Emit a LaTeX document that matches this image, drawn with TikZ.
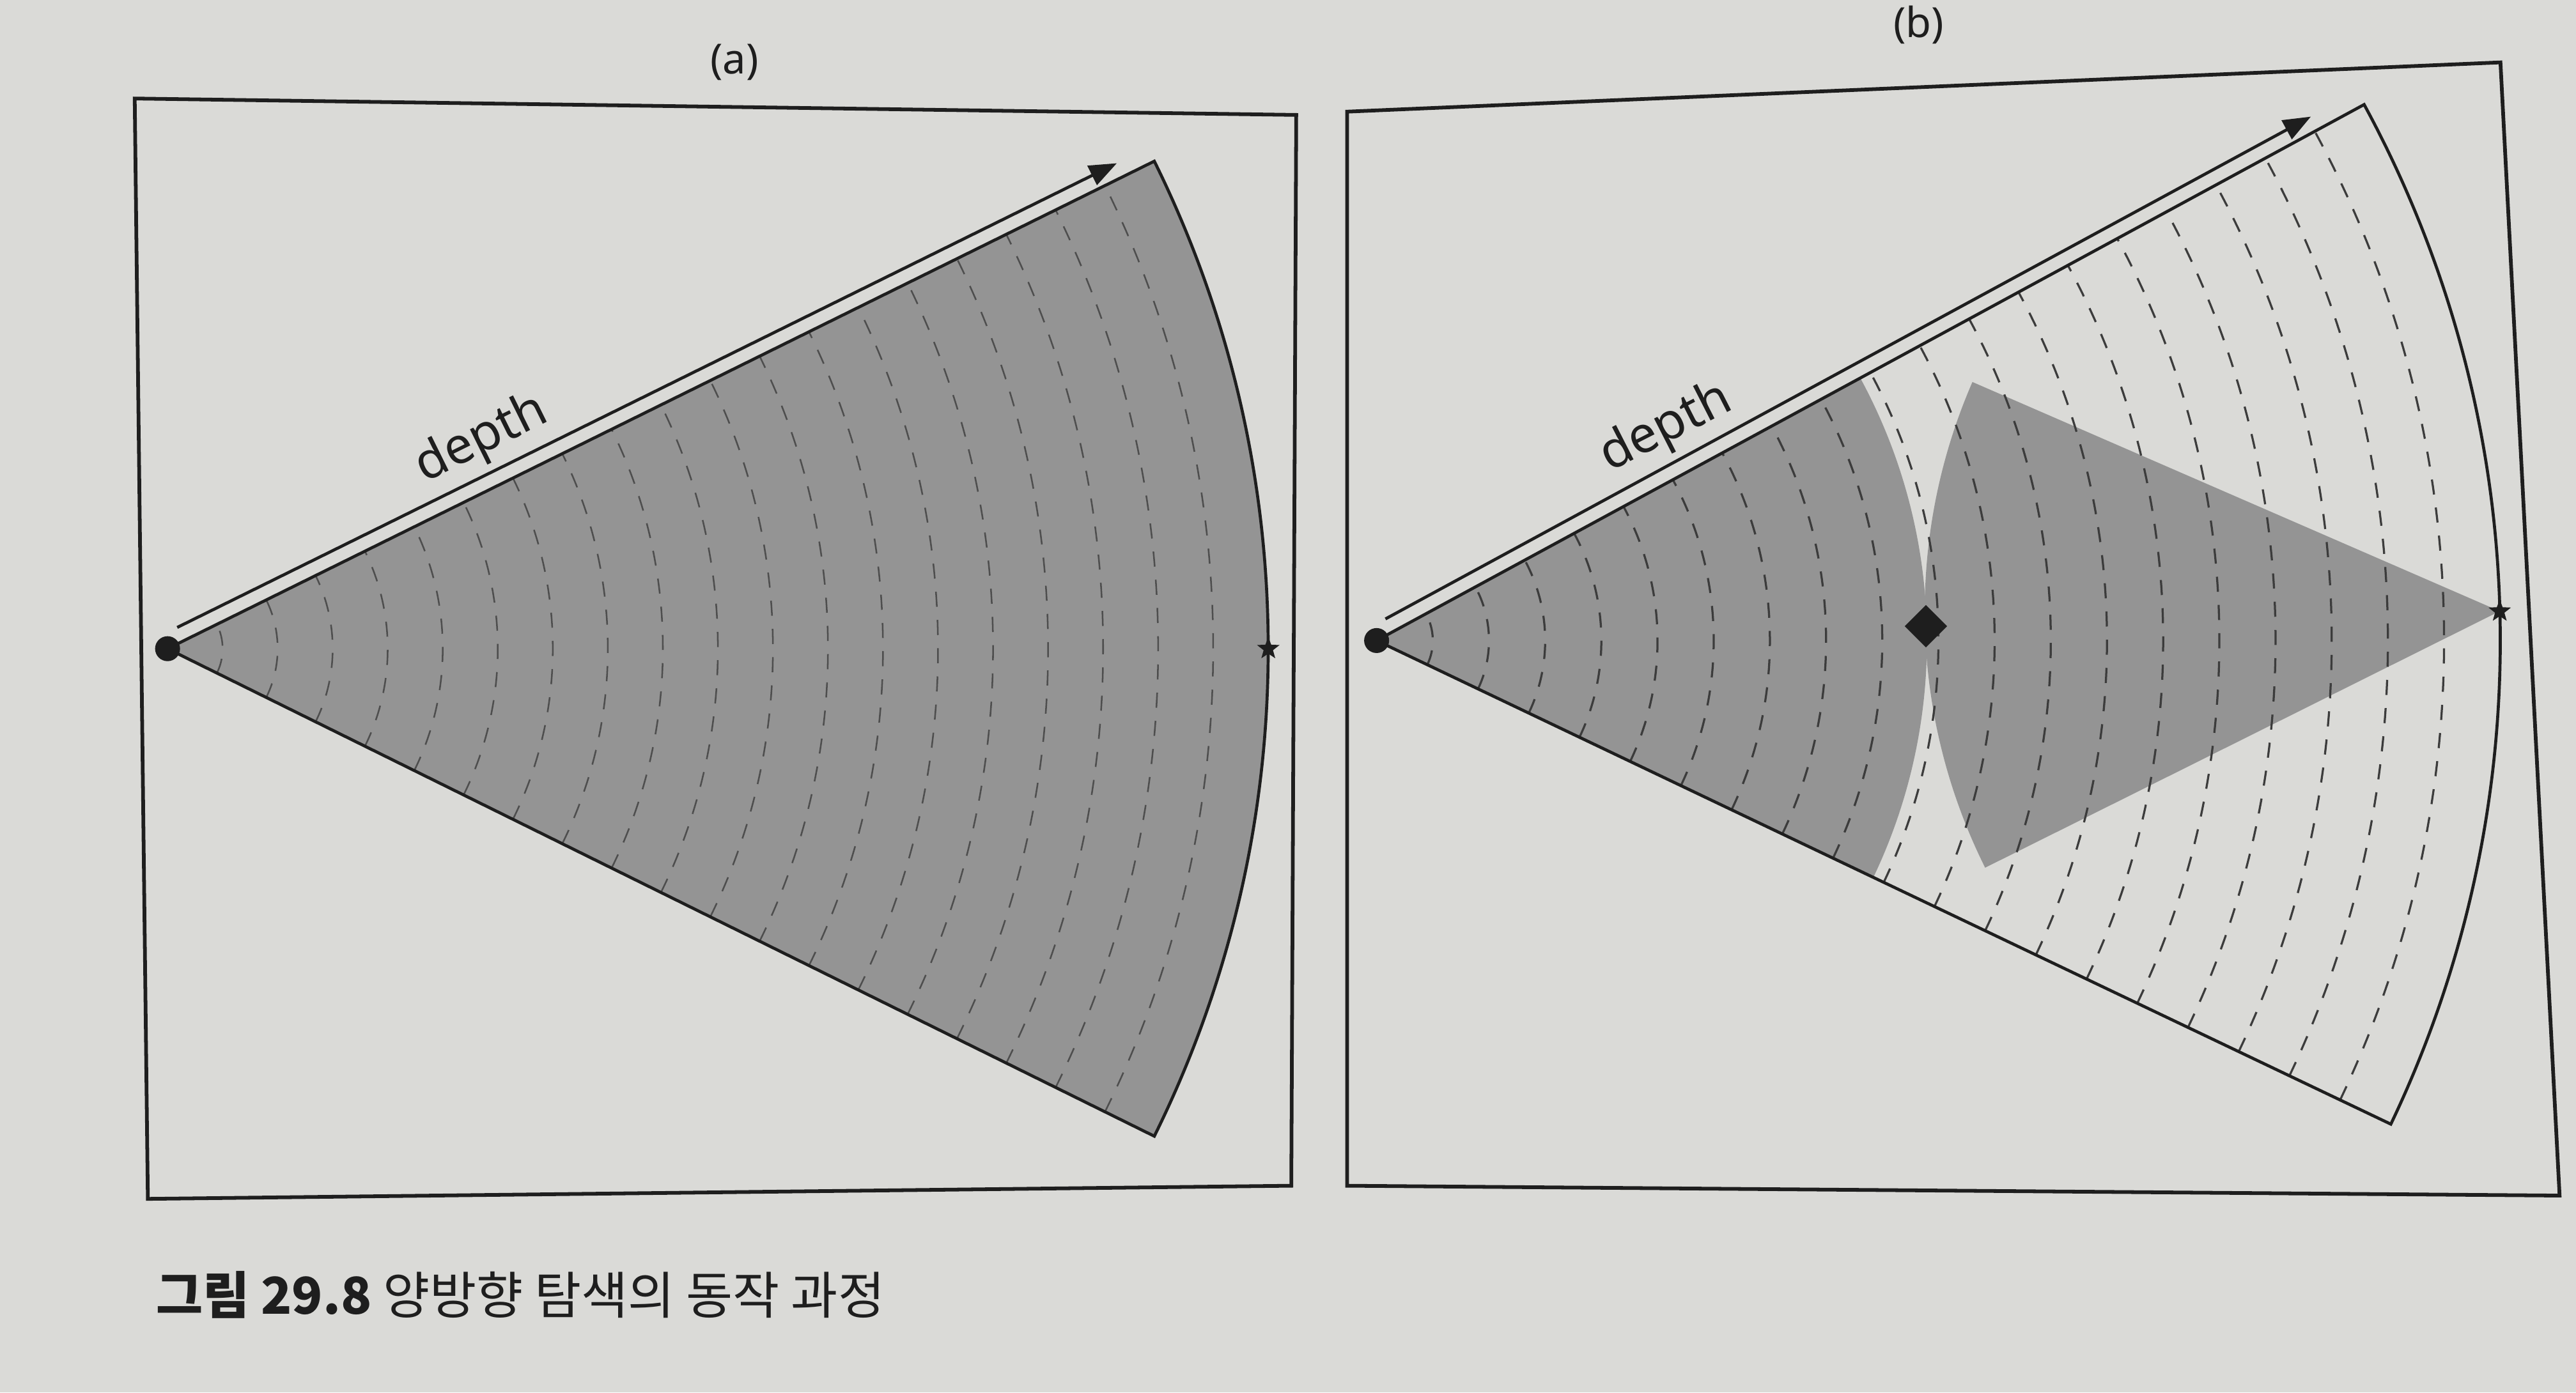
\documentclass[tikz,border=0pt]{standalone}
\usepackage{fontspec}
\setmainfont{Noto Sans}
\newfontfamily\kr{Noto Sans CJK KR}
\usetikzlibrary{shapes.geometric,arrows.meta,calc}

\definecolor{paper}{RGB}{218,218,215}
\definecolor{wedgegray}{RGB}{148,148,148}
\definecolor{ink}{RGB}{30,30,30}
\definecolor{dashink}{RGB}{60,60,60}

\tikzset{
  frame/.style={draw=ink, line width=1.6pt},
  edgeline/.style={draw=ink, line width=1.3pt},
  ring/.style={draw=dashink, line width=0.9pt, dash pattern=on 2.3mm off 2mm},
  faintring/.style={ring, draw=dashink!80!wedgegray, line width=0.7pt},
  dot/.style={circle, fill=ink, inner sep=0pt, minimum size=3.8mm},
  goal/.style={star, star points=5, star point ratio=2.4, fill=ink, inner sep=0pt, minimum size=3.6mm},
  meet/.style={diamond, fill=ink, inner sep=0pt, minimum width=6.5mm, minimum height=6.5mm},
  deptharrow/.style={draw=ink, line width=1.3pt, -{Triangle[length=4.2mm,width=3.2mm]}},
  panel/.style={font=\fontsize{18}{21}\selectfont, text=ink},
  depthlabel/.style={font=\fontsize{22}{26}\selectfont, text=ink, above, sloped, inner sep=1mm}
}

\begin{document}
\begin{tikzpicture}[x=0.25mm,y=0.25mm]
  \fill[paper] (0,0) rectangle (1568,848);
  \useasboundingbox (0,0) rectangle (1568,848);

  % (a)
  \def\Ra{670} \def\Aa{26.3}
  \node [panel] (labA) at (447,810) {(a)};
  \draw[frame] (82,788) -- (789,778) -- (786,126) -- (90,118) -- cycle;
  \coordinate (srcA) at (102,453);
  \fill[wedgegray] (srcA) -- ++(-\Aa:\Ra) arc[start angle=-\Aa, end angle=\Aa, radius=\Ra] -- cycle;
  \foreach \k in {1,...,19}
    \draw[faintring] ($(srcA)+(-\Aa:\k*\Ra/20)$) arc[start angle=-\Aa, end angle=\Aa, radius=\k*\Ra/20];
  \draw[edgeline] (srcA) -- ++(\Aa:\Ra) arc[start angle=\Aa, end angle=-\Aa, radius=\Ra] -- cycle;
  \draw[deptharrow] ($(srcA)+(\Aa:11)+(\Aa+90:9)$)
    -- node [depthlabel, pos=0.34] {depth} ($(srcA)+(\Aa:649)+(\Aa+90:9)$);
  \node [dot] (startA) at (srcA) {};
  \node [goal] (goalA) at ($(srcA)+(\Ra,0)$) {};

  % (b)
  \def\Rb{684} \def\Ab{27}
  \node [panel] (labB) at (1168,833) {(b)};
  \draw[frame] (820,780) -- (1522,810) -- (1558,120) -- (820,126) -- cycle;
  \begin{scope}[rotate around={1.5:(838,458)}]
    \coordinate (srcB) at (838,458);
    \coordinate (endB) at ($(srcB)+(\Rb,0)$);
    \fill[wedgegray] (srcB) -- ++(-\Ab:335) arc[start angle=-\Ab, end angle=\Ab, radius=335] -- cycle;
    \fill[wedgegray] (endB) -- ++(155:350) arc[start angle=155, end angle=205, radius=350] -- cycle;
    \foreach \k in {1,...,19}
      \draw[ring] ($(srcB)+(-\Ab:\k*\Rb/20)$) arc[start angle=-\Ab, end angle=\Ab, radius=\k*\Rb/20];
    \draw[edgeline] (srcB) -- ++(\Ab:\Rb) arc[start angle=\Ab, end angle=-\Ab, radius=\Rb] -- cycle;
    \draw[deptharrow] ($(srcB)+(\Ab:11)+(\Ab+90:9)$)
      -- node [depthlabel, pos=0.32] {depth} ($(srcB)+(\Ab:652)+(\Ab+90:9)$);
    \node [dot] (startB) at (srcB) {};
    \node [goal] (goalB) at (endB) {};
    \node [meet] (meetB) at ($(srcB)+(334.5,0)$) {};
  \end{scope}

  \node [anchor=base west, font=\kr\fontsize{22}{26}\selectfont, text=ink] (caption) at (90,48)
    {\textbf{그림 29.8} 양방향 탐색의 동작 과정};
\end{tikzpicture}
\end{document}
